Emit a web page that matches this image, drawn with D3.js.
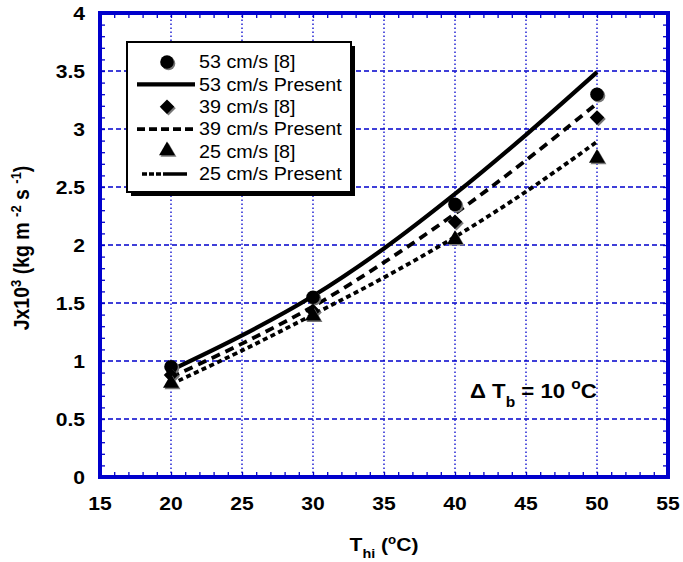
<!DOCTYPE html>
<html>
<head>
<meta charset="utf-8">
<script src="https://cdn.jsdelivr.net/npm/d3@7"></script>
<style>
  html, body { margin: 0; padding: 0; background: #fff; }
  svg text { font-family: "Liberation Sans", Arial, sans-serif; }
</style>
</head>
<body>
<svg id="chart" width="683" height="562"></svg>
<script>
// Measured mass flux J (x10^3 kg m^-2 s^-1) from ref. [8]
const tMeasured = [20, 30, 40, 50];
const j53Ref = [0.95, 1.55, 2.35, 3.30];
const j39Ref = [0.88, 1.43, 2.20, 3.10];
const j25Ref = [0.80, 1.38, 2.04, 2.74];

// Present model predictions
const tModel = [20, 25, 30, 35, 40, 45, 50];
const j53Model = [0.92, 1.22, 1.56, 1.97, 2.44, 2.95, 3.49];
const j39Model = [0.86, 1.15, 1.47, 1.85, 2.27, 2.73, 3.22];
const j25Model = [0.80, 1.09, 1.40, 1.72, 2.07, 2.46, 2.89];

const xTicks = [15, 20, 25, 30, 35, 40, 45, 50, 55];
const yTicks = [0, 0.5, 1, 1.5, 2, 2.5, 3, 3.5, 4];
const legendLabels = ["53 cm/s [8]", "53 cm/s Present", "39 cm/s [8]", "39 cm/s Present", "25 cm/s [8]", "25 cm/s Present"];

const BLUE = "#0000cc";
const SX = 1.11; // horizontal text stretch

const svg = d3.select("#chart");
const x = d3.scaleLinear().domain([15, 55]).range([100, 668]);
const y = d3.scaleLinear().domain([0, 4]).range([477, 13]);

// stretched text helper
function label(parent, px, py, str, opts = {}) {
  const g = parent.append("g").attr("transform", `translate(${px},${py}) scale(${SX},1)` + (opts.rotate ? ` rotate(${opts.rotate})` : ""));
  const t = g.append("text")
    .attr("font-size", opts.size || 18)
    .attr("font-weight", opts.bold ? "bold" : "normal")
    .attr("text-anchor", opts.anchor || "start")
    .attr("fill", "#000");
  if (typeof str === "string") t.text(str);
  else str(t);
  return t;
}

// grid
const grid = svg.append("g");
grid.selectAll("line.h").data(yTicks.slice(1, -1)).join("line")
  .attr("x1", x(15)).attr("x2", x(55))
  .attr("y1", d => y(d)).attr("y2", d => y(d))
  .attr("stroke", BLUE).attr("stroke-width", 1.3).attr("stroke-dasharray", "5,3");
grid.selectAll("line.v").data(xTicks.slice(1, -1)).join("line")
  .attr("y1", y(0)).attr("y2", y(4))
  .attr("x1", d => x(d)).attr("x2", d => x(d))
  .attr("stroke", BLUE).attr("stroke-width", 1.3).attr("stroke-dasharray", "1.5,2.5");

// minor ticks on all four sides (pointing inward)
const tickLen = 5;
const yMinor = d3.range(0, 4.0001, 0.1);
const xMinor = d3.range(15, 55.0001, 1);
const axes = svg.append("g").attr("stroke", BLUE).attr("stroke-width", 1.3);
axes.append("g").call(d3.axisLeft(y).tickValues(yMinor).tickSize(-tickLen).tickFormat(""))
  .attr("transform", `translate(${x(15)},0)`);
axes.append("g").call(d3.axisRight(y).tickValues(yMinor).tickSize(-tickLen).tickFormat(""))
  .attr("transform", `translate(${x(55)},0)`);
axes.append("g").call(d3.axisBottom(x).tickValues(xMinor).tickSize(-tickLen).tickFormat(""))
  .attr("transform", `translate(0,${y(0)})`);
axes.append("g").call(d3.axisTop(x).tickValues(xMinor).tickSize(-tickLen).tickFormat(""))
  .attr("transform", `translate(0,${y(4)})`);
axes.selectAll(".domain").remove();
axes.selectAll(".tick line").attr("stroke", BLUE).attr("stroke-width", 1.3);

// model curves
const line = d3.line().x((d, i) => x(tModel[i])).y(d => y(d)).curve(d3.curveCatmullRom.alpha(0.5));
const curves = [
  { v: j53Model, dash: null, w: 4.2 },
  { v: j39Model, dash: "9,6", w: 3.8 },
  { v: j25Model, dash: "5,3.5", w: 3.8 }
];
svg.append("g").selectAll("path").data(curves).join("path")
  .attr("d", d => line(d.v))
  .attr("fill", "none").attr("stroke", "#000")
  .attr("stroke-width", d => d.w)
  .attr("stroke-dasharray", d => d.dash);

// markers
const symCircle = d3.symbol().type(d3.symbolCircle).size(145);
const symDiamond = d3.symbol().type(d3.symbolSquare).size(105);
const symTriangle = d3.symbol().type(d3.symbolTriangle).size(110);
function drawMarker(g, sym, px, py, rot) {
  const s = g.append("g").attr("transform", `translate(${px},${py})`);
  s.append("path").attr("d", sym()).attr("fill", "#777")
    .attr("transform", `translate(1.5,1.5) rotate(${rot || 0})`);
  s.append("path").attr("d", sym()).attr("fill", "#000")
    .attr("transform", `rotate(${rot || 0})`);
}
const marks = svg.append("g");
tMeasured.forEach((t, i) => {
  drawMarker(marks, symCircle, x(t), y(j53Ref[i]));
  drawMarker(marks, symDiamond, x(t), y(j39Ref[i]), 45);
  drawMarker(marks, symTriangle, x(t), y(j25Ref[i]) - 1);
});

// frame
svg.append("rect")
  .attr("x", x(15)).attr("y", y(4))
  .attr("width", x(55) - x(15)).attr("height", y(0) - y(4))
  .attr("fill", "none").attr("stroke", BLUE).attr("stroke-width", 4);

// tick labels
const fmt = d => (d === 0 ? "0" : d3.format("~g")(d));
yTicks.forEach(d => label(svg, 85, y(d) + 6.8, fmt(d), { bold: true, size: 19, anchor: "end" }));
xTicks.forEach(d => label(svg, x(d), 510, String(d), { bold: true, size: 19, anchor: "middle" }));

// axis titles
label(svg, 384, 551, t => {
  t.append("tspan").text("T");
  t.append("tspan").attr("font-size", 13).attr("dy", 7).text("hi");
  t.append("tspan").attr("dy", -7).text(" (");
  t.append("tspan").attr("font-size", 12).attr("dy", -7).text("o");
  t.append("tspan").attr("dy", 7).text("C)");
}, { bold: true, size: 19, anchor: "middle" });

label(svg, 29, 248, t => {
  t.append("tspan").text("Jx10");
  t.append("tspan").attr("font-size", 13).attr("dy", -7).text("3");
  t.append("tspan").attr("dy", 7).text(" (kg m ");
  t.append("tspan").attr("font-size", 13).attr("dy", -7).text("-2");
  t.append("tspan").attr("dy", 7).text(" s ");
  t.append("tspan").attr("font-size", 13).attr("dy", -7).text("-1");
  t.append("tspan").attr("dy", 7).text(")");
}, { bold: true, size: 19.5, anchor: "middle", rotate: -90 });

// annotation
label(svg, 470, 398, t => {
  t.append("tspan").text("\u0394 T");
  t.append("tspan").attr("font-size", 14).attr("dy", 9).text("b");
  t.append("tspan").attr("dy", -9).text(" = 10 ");
  t.append("tspan").attr("font-size", 14).attr("dy", -9).text("o");
  t.append("tspan").attr("dy", 9).text("C");
}, { bold: true, size: 20, anchor: "start" });

// legend
const lg = svg.append("g");
const lx = 127, ly = 42, lw = 224, lh = 150;
lg.append("rect").attr("x", lx + 4).attr("y", ly + 4).attr("width", lw).attr("height", lh).attr("fill", "#000");
lg.append("rect").attr("x", lx).attr("y", ly).attr("width", lw).attr("height", lh)
  .attr("fill", "#fff").attr("stroke", "#000").attr("stroke-width", 2);
const rowY = i => 62 + i * 22.4;
legendLabels.forEach((s, i) => label(lg, 199, rowY(i) + 6.2, s, { size: 17.8 }));
drawMarker(lg, symCircle, 167, rowY(0));
drawMarker(lg, symDiamond, 167, rowY(2), 45);
drawMarker(lg, symTriangle, 167, rowY(4) - 1);
lg.append("line").attr("x1", 137).attr("x2", 195).attr("y1", rowY(1)).attr("y2", rowY(1))
  .attr("stroke", "#000").attr("stroke-width", 4.2);
lg.append("line").attr("x1", 137).attr("x2", 195).attr("y1", rowY(3)).attr("y2", rowY(3))
  .attr("stroke", "#000").attr("stroke-width", 3.8).attr("stroke-dasharray", "8,4");
lg.append("line").attr("x1", 142).attr("x2", 191).attr("y1", rowY(5)).attr("y2", rowY(5))
  .attr("stroke", "#000").attr("stroke-width", 3.6).attr("stroke-dasharray", "5,2,5,2,5,2,24");
</script>
</body>
</html>
